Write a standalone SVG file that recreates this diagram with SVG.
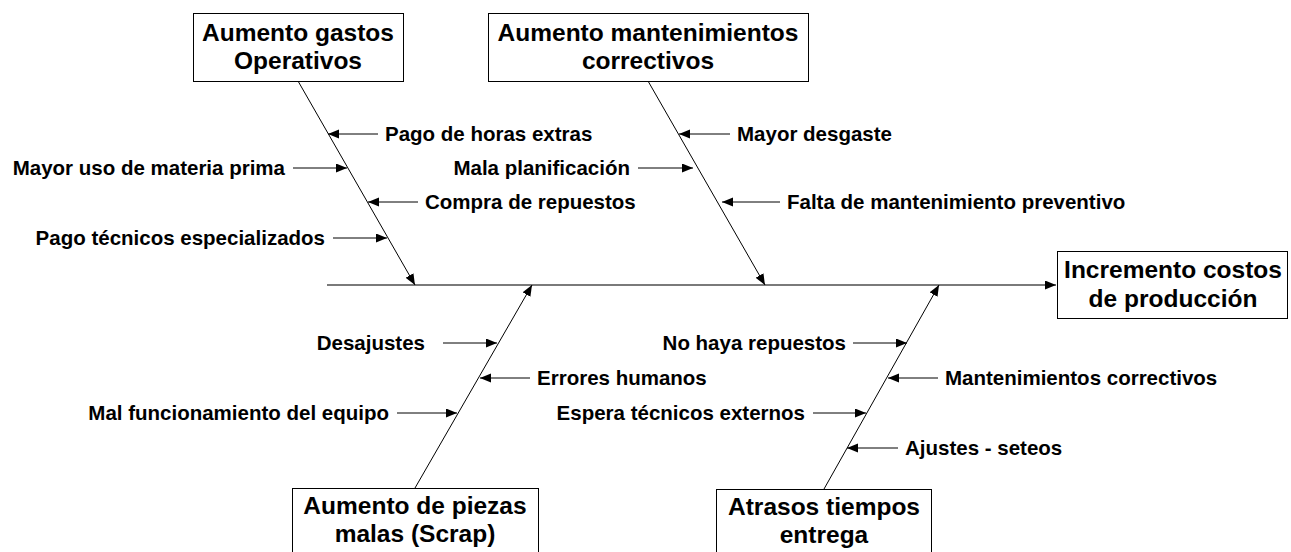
<svg xmlns="http://www.w3.org/2000/svg" width="1291" height="552" viewBox="0 0 1291 552">
<style>
.box{fill:#fff;stroke:#000;stroke-width:1}
.title{font-family:"Liberation Sans",Arial,sans-serif;font-weight:bold;font-size:24.5px;text-anchor:middle;fill:#000}
.lbl{font-family:"Liberation Sans",Arial,sans-serif;font-weight:bold;font-size:20.5px;fill:#000}
.r{text-anchor:start}
.l{text-anchor:end}
.bone{stroke:#000;stroke-width:1;fill:none;marker-end:url(#ah)}
.sub{stroke:#000;stroke-width:1;fill:none;marker-end:url(#ah)}
.spine{stroke:#7a7a7a;stroke-width:2;fill:none;marker-end:url(#ah)}
</style>
<defs>
<marker id="ah" markerUnits="userSpaceOnUse" markerWidth="12" markerHeight="10" refX="11" refY="4.5" orient="auto">
<path d="M0,0 L11,4.5 L0,9 z" fill="#000"/>
</marker>
</defs>
<rect width="1291" height="552" fill="#fff"/>
<g id="connectors">
<line class="spine" x1="327" y1="285" x2="1056" y2="285"/>
<line class="bone" x1="298" y1="81" x2="415" y2="285"/>
<line class="bone" x1="648" y1="81" x2="765" y2="285"/>
<line class="bone" x1="415" y1="488" x2="532" y2="285"/>
<line class="bone" x1="824" y1="489" x2="939" y2="285"/>
<line class="sub" x1="378" y1="134" x2="328" y2="134"/>
<line class="sub" x1="293" y1="168" x2="347" y2="168"/>
<line class="sub" x1="418" y1="202" x2="368" y2="202"/>
<line class="sub" x1="333" y1="238" x2="387" y2="238"/>
<line class="sub" x1="730" y1="134" x2="679" y2="134"/>
<line class="sub" x1="638" y1="168" x2="693" y2="168"/>
<line class="sub" x1="780" y1="202" x2="722" y2="202"/>
<line class="sub" x1="443" y1="343" x2="497" y2="343"/>
<line class="sub" x1="530" y1="378" x2="480" y2="378"/>
<line class="sub" x1="397" y1="413" x2="457" y2="413"/>
<line class="sub" x1="853" y1="343" x2="907" y2="343"/>
<line class="sub" x1="938" y1="378" x2="888" y2="378"/>
<line class="sub" x1="813" y1="413" x2="866" y2="413"/>
<line class="sub" x1="898" y1="448" x2="847" y2="448"/>
</g>
<g id="labels">
<text class="lbl r" x="385" y="141">Pago de horas extras</text>
<text class="lbl l" x="285" y="175">Mayor uso de materia prima</text>
<text class="lbl r" x="425" y="209">Compra de repuestos</text>
<text class="lbl l" x="325" y="245">Pago técnicos especializados</text>
<text class="lbl r" x="737" y="141">Mayor desgaste</text>
<text class="lbl l" x="630" y="175">Mala planificación</text>
<text class="lbl r" x="787" y="209">Falta de mantenimiento preventivo</text>
<text class="lbl l" x="425" y="350">Desajustes</text>
<text class="lbl r" x="537" y="385">Errores humanos</text>
<text class="lbl l" x="389" y="420">Mal funcionamiento del equipo</text>
<text class="lbl l" x="846" y="350">No haya repuestos</text>
<text class="lbl r" x="945" y="385">Mantenimientos correctivos</text>
<text class="lbl l" x="805" y="420">Espera técnicos externos</text>
<text class="lbl r" x="905" y="455">Ajustes - seteos</text>
</g>
<g id="node-gastos">
<rect class="box" x="193.5" y="13.5" width="210" height="68"/>
<text class="title" x="298" y="41">Aumento gastos</text>
<text class="title" x="298" y="69">Operativos</text>
</g>
<g id="node-mantenimientos">
<rect class="box" x="488.5" y="13.5" width="320" height="68"/>
<text class="title" x="648" y="41">Aumento mantenimientos</text>
<text class="title" x="648" y="69">correctivos</text>
</g>
<g id="node-incremento">
<rect class="box" x="1057.5" y="251.5" width="230" height="67"/>
<text class="title" x="1173" y="278">Incremento costos</text>
<text class="title" x="1173" y="307">de producción</text>
</g>
<g id="node-scrap">
<rect class="box" x="292.5" y="488.5" width="246" height="80"/>
<text class="title" x="415" y="514">Aumento de piezas</text>
<text class="title" x="415" y="542">malas (Scrap)</text>
</g>
<g id="node-atrasos">
<rect class="box" x="716.5" y="489.5" width="215" height="80"/>
<text class="title" x="824" y="515">Atrasos tiempos</text>
<text class="title" x="824" y="543">entrega</text>
</g>
</svg>
